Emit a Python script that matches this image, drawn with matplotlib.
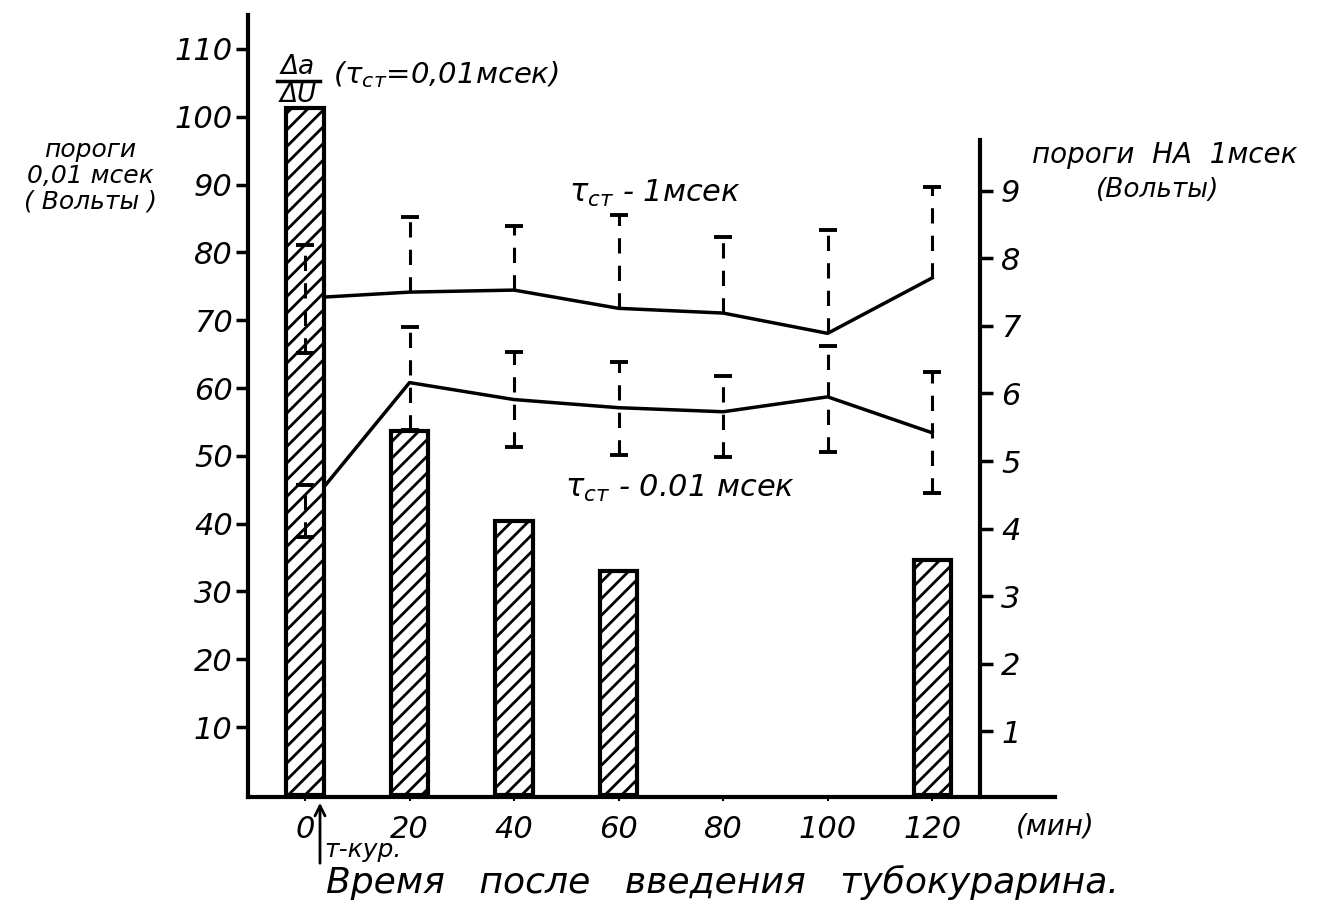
import numpy as np
import matplotlib.pyplot as plt

W, H = 1338, 911

# time after tubocurarine injection (min)
times = [0, 20, 40, 60, 80, 100, 120]
bar_times = [0, 20, 40, 60, 120]
# dQ/dU at tau = 0.01 msec (left axis)
dq_du = [101.3, 53.7, 40.4, 33.0, 34.7]

# thresholds at 0.01 msec (left axis, volts)
thr_001 = [42.0, 60.8, 58.3, 57.1, 56.5, 58.7, 53.4]
thr_001_hi = [45.7, 69.0, 65.3, 63.9, 61.7, 66.2, 62.4]
thr_001_lo = [38.1, 53.8, 51.3, 50.1, 49.9, 50.6, 44.5]

# thresholds at 1 msec (right axis, volts), only upper spread drawn except at 0
thr_1 = [7.41, 7.50, 7.53, 7.26, 7.19, 6.89, 7.71]
thr_1_hi = [8.20, 8.61, 8.48, 8.64, 8.31, 8.42, 9.05]
thr_1_lo = [6.60, 7.50, 7.53, 7.26, 7.19, 6.89, 7.71]

left_ticks = [10, 20, 30, 40, 50, 60, 70, 80, 90, 100, 110]
right_ticks = [1, 2, 3, 4, 5, 6, 7, 8, 9]
x_ticks = [0, 20, 40, 60, 80, 100, 120]

plt.rcParams['font.family'] = ['DejaVu Sans']
plt.rcParams['hatch.linewidth'] = 2.0
FONT = dict(style='italic', color='black')


def px(x, y):
    return x / W, 1 - y / H


fig = plt.figure(figsize=(W / 100, H / 100), dpi=100)
ax = fig.add_axes([248 / W, (H - 797) / H, (1055 - 248) / W, 782 / H])
ax2 = ax.twinx()

ax.set_xlim(-10.9, 143.5)
ax.set_ylim(-0.3, 115)
ax2.set_ylim(0.03, 11.6)

# bars
ax.bar(bar_times, dq_du, width=7.1, facecolor='white', edgecolor='black',
       linewidth=3, hatch='//', zorder=2)

# lines (behind bars)
ax.plot(times, thr_001, color='black', lw=2.5, zorder=1)
ax.plot(times, thr_1, color='black', lw=2.5, zorder=1, transform=ax2.transData)

# dashed spreads with caps (over bars)
dash = (0, (5, 4))
ax.vlines(times, thr_001_lo, thr_001_hi, colors='black', linestyles=[dash], lw=2.2, zorder=3)
ax.plot(times, thr_001_hi, ls='none', marker='_', ms=13, mew=2.8, color='black', zorder=3)
ax.plot(times, thr_001_lo, ls='none', marker='_', ms=13, mew=2.8, color='black', zorder=3)

ax.vlines(times, thr_1_lo, thr_1_hi, colors='black', linestyles=[dash], lw=2.2, zorder=3,
          transform=ax2.transData)
ax.plot(times, thr_1_hi, ls='none', marker='_', ms=13, mew=2.8, color='black', zorder=3,
        transform=ax2.transData)
ax.plot(times[:1], thr_1_lo[:1], ls='none', marker='_', ms=13, mew=2.8, color='black',
        zorder=3, transform=ax2.transData)

# spines
for a in (ax, ax2):
    a.spines['top'].set_visible(False)
    a.patch.set_visible(False)
ax.spines['right'].set_visible(False)
ax.spines['left'].set_linewidth(3)
ax.spines['bottom'].set_linewidth(3)
ax2.spines['left'].set_visible(False)
ax2.spines['bottom'].set_visible(False)
ax2.spines['right'].set_position(('data', 129.2))
ax2.spines['right'].set_linewidth(3)
ax2.spines['right'].set_bounds(0.03, 9.75)

ax.set_yticks(left_ticks)
ax.set_yticklabels([str(v) for v in left_ticks], fontsize=22, **FONT)
ax.tick_params(axis='y', direction='out', length=9, width=2.5, pad=2)

ax2.set_yticks(right_ticks)
ax2.set_yticklabels([str(v) for v in right_ticks], fontsize=22, **FONT)
ax2.tick_params(axis='y', direction='out', length=9, width=2.5, pad=6)

ax.set_xticks(x_ticks)
ax.set_xticklabels([str(v) for v in x_ticks], fontsize=22, **FONT)
ax.tick_params(axis='x', direction='out', length=3, width=1.5, pad=10)

# texts
fig.text(*px(298, 67), 'Δa', fontsize=19, ha='center', va='center', **FONT)
fig.text(*px(298, 95), 'ΔU', fontsize=19, ha='center', va='center', **FONT)
fig.add_artist(plt.Line2D([277 / W, 320 / W], [1 - 81 / H, 1 - 81 / H], color='black', lw=2.5))
fig.text(*px(333, 75), r'($\tau_{ст}$=0,01мсек)', fontsize=21, ha='left', va='center', **FONT)

fig.text(*px(90, 176), 'пороги\n0,01 мсек\n( Вольты )', fontsize=18, ha='center',
         va='center', linespacing=1.1, **FONT)
fig.text(*px(1032, 155), 'пороги  НА  1мсек', fontsize=20, ha='left', va='center', **FONT)
fig.text(*px(1158, 190), '(Вольты)', fontsize=19, ha='center', va='center', **FONT)

fig.text(*px(655, 193), r'$\tau_{ст}$ - 1мсек', fontsize=22, ha='center', va='center', **FONT)
fig.text(*px(680, 488), r'$\tau_{ст}$ - 0.01 мсек', fontsize=22, ha='center', va='center', **FONT)

fig.text(*px(1055, 826), '(мин)', fontsize=20, ha='center', va='center', **FONT)
fig.text(*px(324, 850), 'т-кур.', fontsize=18, ha='left', va='center', **FONT)
ax.annotate('', xy=px(320, 800), xycoords='figure fraction', xytext=px(320, 866),
            textcoords='figure fraction',
            arrowprops=dict(arrowstyle='->', lw=2, color='black', mutation_scale=18))

fig.text(*px(722, 882), 'Время   после   введения   тубокурарина.', fontsize=26,
         ha='center', va='center', **FONT)

fig.savefig('out.png', dpi=100)
